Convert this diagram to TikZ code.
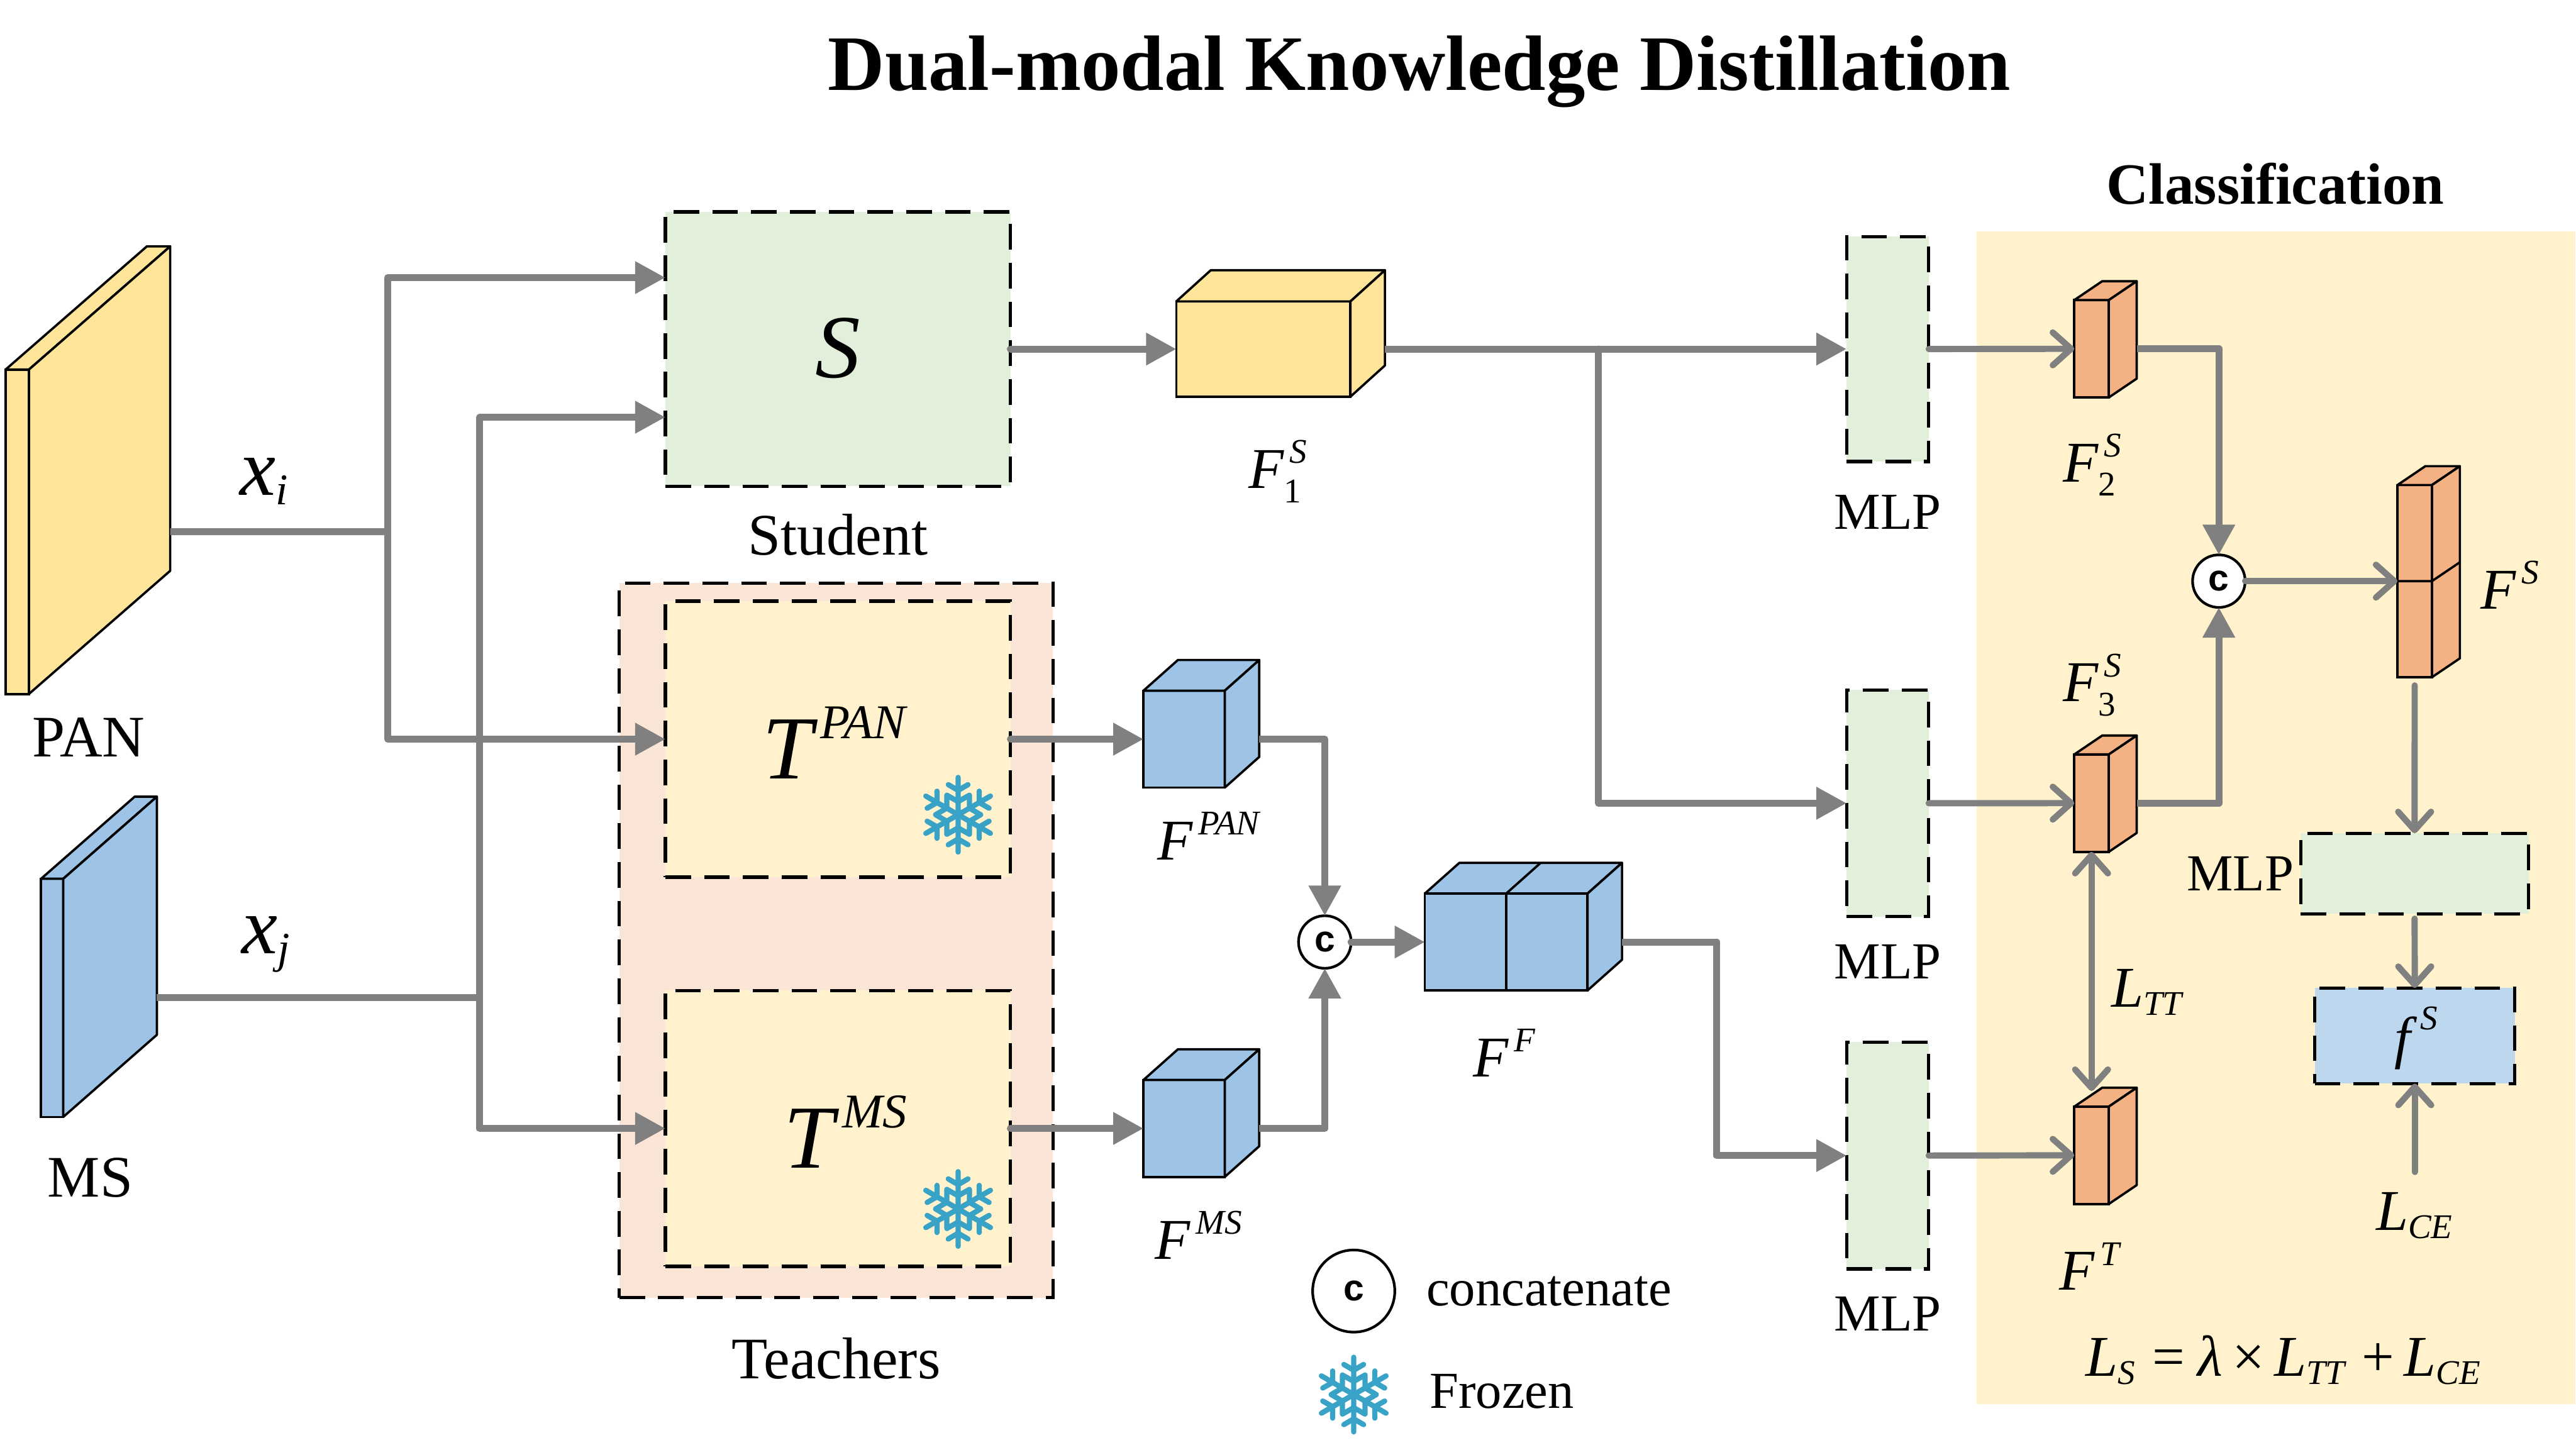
\documentclass[tikz,border=0pt]{standalone}
\usepackage{amsmath}
\usepackage{fontspec}
\setmainfont{Liberation Serif}
\newfontfamily\capfont{Liberation Sans}
\usepackage{tikz}
\usetikzlibrary{arrows.meta, positioning, calc}
\DeclareMathSizes{25}{25}{15}{12}
\DeclareMathSizes{39}{39}{21}{16}
\DeclareMathSizes{35}{35}{19}{15}
\definecolor{paneyellow}{HTML}{FFF2CC}
\definecolor{paneorange}{HTML}{FBE5D6}
\definecolor{panegreen}{HTML}{E2EFDA}
\definecolor{paneblue}{HTML}{BDD7EE}
\definecolor{cubeyellow}{HTML}{FEE599}
\definecolor{cubeblue}{HTML}{9DC3E6}
\definecolor{cubeorange}{HTML}{F4B183}
\definecolor{arrgray}{HTML}{808080}
\definecolor{flakeblue}{HTML}{38A3C6}
\def\pxu{0.25mm}
\newcommand{\mv}[1]{\textit{#1}}
% front face is the node, top and side faces hang off it
\newcommand{\featcube}[8]{
  \node[cubeface, fill=#8, size={#4}{#5}, anchor=north west] (#1) at (#2,#3) {};
  \draw[cubeline, fill=#8] (#1.north west) -- ++(#6,-#7) -- ++(#4,0) -- (#1.north east) -- cycle;
  \draw[cubeline, fill=#8] (#1.north east) -- ++(#6,-#7) -- ++(0,#5) -- (#1.south east) -- cycle;
  \coordinate (#1-r) at ($(#1.east)+(#6,0)$);
}
\tikzset{
  snowflake/.pic = {
    \foreach \a in {0,60,...,300} {
      \draw[flakeline, rotate=\a] (0,0) -- (0,22.7) (-6,18.3) -- (0,14.8) -- (6,18.3);
      \draw[flakeline, rotate=\a] (0,8) -- (6.85,11.86) -- (6.93,4);
    }
  }
}
\begin{document}
\begin{tikzpicture}[
    x=0.25mm, y=-0.25mm,
    size/.style 2 args = {minimum width=#1*\pxu, minimum height=#2*\pxu},
    dbox/.style = {draw, line width=0.5mm, dash pattern=on 3.9mm off 2mm, inner sep=0pt, outer sep=0pt},
    cubeface/.style = {draw, line width=0.35mm, inner sep=0pt, outer sep=0pt},
    cubeline/.style = {line width=0.35mm, line join=round},
    circ/.style = {draw, circle, fill=white, line width=0.4mm, inner sep=0pt, outer sep=0pt,
      font=\capfont\bfseries\fontsize{16pt}{20pt}\selectfont},
    arr/.style = {-{Triangle[length=4.6mm, width=4.7mm]}, line width=1.05mm, arrgray, line cap=round, line join=round},
    cubearr/.style = {arr, line cap=butt},
    oarr/.style = {-{Straight Barb[length=2.8mm, width=5mm, round]}, line width=0.95mm, arrgray, line cap=round, line join=round},
    lbl/.style = {inner sep=0pt, font=\fontsize{25pt}{30pt}\selectfont},
    txt/.style = {inner sep=0pt, font=\fontsize{25.5pt}{30pt}\selectfont},
    leg/.style = {inner sep=0pt, font=\fontsize{22.5pt}{27pt}\selectfont},
    big/.style = {inner sep=0pt, font=\fontsize{39pt}{48pt}\selectfont},
    mid/.style = {inner sep=0pt, font=\fontsize{35pt}{42pt}\selectfont},
    flakeline/.style = {line width=0.8mm, flakeblue, line cap=round, line join=round},
  ]
    \useasboundingbox (0,0) rectangle (1568,882.7);

    % Title
    \node[inner sep=0pt, font=\bfseries\fontsize{34pt}{40pt}\selectfont] (title) at (864,43.5) {Dual-modal Knowledge Distillation};
    \node[inner sep=0pt, font=\bfseries\fontsize{25.3pt}{30pt}\selectfont] (cls) at (1385,112) {Classification};

    % Panels
    \node[fill=paneyellow, inner sep=0pt, size={364.5}{714}, anchor=north west] (panel) at (1203,140.5) {};
    \node[dbox, fill=paneorange, size={264}{435}, anchor=north west] (teach) at (377,355) {};
    \node[dbox, fill=panegreen, size={210}{167}, anchor=north west] (S) at (405,129) {};
    \node[dbox, fill=paneyellow, size={210}{168}, anchor=north west] (TP) at (405,366) {};
    \node[dbox, fill=paneyellow, size={210}{168}, anchor=north west] (TM) at (405,603) {};
    \node[dbox, fill=panegreen, size={50}{137}, anchor=north west] (M1) at (1124,144) {};
    \node[dbox, fill=panegreen, size={50}{138}, anchor=north west] (M2) at (1124,420) {};
    \node[dbox, fill=panegreen, size={50}{138}, anchor=north west] (M3) at (1124,634.5) {};
    \node[dbox, fill=panegreen, size={138.7}{49}, anchor=north west] (M4) at (1400.4,507.3) {};
    \node[dbox, fill=paneblue, size={121.7}{58.2}, anchor=north west] (fS) at (1409,601.5) {};

    % Inputs and features
    \featcube{PAN}{3.4}{225}{14.2}{197.5}{86}{75}{cubeyellow}
    \featcube{MS}{25}{535}{13.5}{145}{57}{50}{cubeblue}
    \featcube{F1S}{716}{183.5}{106}{58}{21}{19}{cubeyellow}
    \featcube{FP}{696}{420.5}{49.5}{59}{21}{18.7}{cubeblue}
    \featcube{FM}{696}{657.5}{49.5}{59}{21}{18.7}{cubeblue}
    \featcube{FF}{867.3}{544}{99}{59}{21}{18.7}{cubeblue}
    \draw[cubeline] (FF.north) -- (FF.south) (FF.north) -- ++(21,-18.7);
    \featcube{F2}{1262.6}{182.7}{21}{59.3}{17}{11.5}{cubeorange}
    \featcube{F3}{1262.6}{459.3}{21}{59.3}{17}{11.5}{cubeorange}
    \featcube{FT}{1262.6}{673.7}{21}{59.3}{17}{11.5}{cubeorange}
    \featcube{FS}{1459.3}{295.3}{21}{117}{17}{11.5}{cubeorange}
    \draw[cubeline] (FS.west) -- (FS.east) -- ++(17,-11.5);

    % Concatenation
    \node[circ, minimum size=32*\pxu] (c1) at (806.4,573.5) {c};
    \node[circ, minimum size=32*\pxu] (c2) at (1350.6,353.8) {c};

    % Frozen marks
    \pic at (583.2,496) {snowflake};
    \pic at (583.2,736) {snowflake};

    % Arrows left part
    \coordinate (jpan) at (236,323.7);
    \coordinate (jms) at (292,607.5);
    \coordinate (Sa) at ($(S.west)+(0,-43.5)$);
    \coordinate (Sb) at ($(S.west)+(0,41.5)$);
    \draw[cubearr, -] (PAN-r) -- (jpan);
    \draw[arr] (jpan) |- (Sa);
    \draw[arr] (jpan) |- (TP.west);
    \draw[cubearr, -] (MS-r) -- (jms);
    \draw[arr] (jms) |- (Sb);
    \draw[arr] (jms) |- (TM.west);

    % Arrows middle part
    \coordinate (jbr) at (973,212.5);
    \coordinate (jff) at (1045,573.5);
    \draw[arr] (S.east) -- (F1S.west);
    \draw[arr] (TP.east) -- (FP.west);
    \draw[arr] (TM.east) -- (FM.west);
    \draw[cubearr] (FP-r) -| (c1.north);
    \draw[cubearr] (FM-r) -| (c1.south);
    \draw[arr] (c1) -- (FF.west);
    \draw[cubearr] (F1S-r) -- (M1.west);
    \draw[arr] (jbr) |- (M2.west);
    \draw[cubearr] (FF-r) -- (jff) |- (M3.west);

    % Arrows classification
    \draw[oarr] (M1.east) -- (F2.west);
    \draw[oarr] (M2.east) -- (F3.west);
    \draw[oarr] (M3.east) -- (FT.west);
    \draw[cubearr] (F2-r) -| (c2.north);
    \draw[cubearr] (F3-r) -| (c2.south);
    \draw[oarr] (c2) -- (FS.west);
    \draw[oarr, shorten <=5*\pxu] (FS.south) -- (M4.north);
    \draw[oarr, shorten <=3*\pxu] (M4.south) -- (fS.north);
    \draw[oarr, {Straight Barb[length=2.8mm, width=5mm, round]}-{Straight Barb[length=2.8mm, width=5mm, round]}, shorten >=9.5*\pxu] (F3.south) -- (FT.north);

    % Labels
    \node[big] (Stxt) at (510,212) {$\mv{S}$};
    \node[big] (TPtxt) at (508,452) {$\mv{T}^{\,\mv{PAN}}$};
    \node[big] (TMtxt) at (515,689) {$\mv{T}^{\,\mv{MS}}$};
    \node[txt, below=4.2mm of S] (Slbl) {Student};
    \node[txt, below=6mm of teach] (Tlbl) {Teachers};
    \node[txt] (PANlbl) at (54,449) {PAN};
    \node[txt] (MSlbl) at (55,717) {MS};
    \node[leg, below=5mm of M1] (M1lbl) {MLP};
    \node[leg, below=4.2mm of M2] (M2lbl) {MLP};
    \node[leg, below=4.2mm of M3] (M3lbl) {MLP};
    \node[leg, left=1mm of M4] (M4lbl) {MLP};
    \node[mid] (xi) at (161,293) {$\mv{x}_{\mv{i}}$};
    \node[mid] (xj) at (162,575) {$\mv{x}_{\mv{j}}$};
    \node[lbl] (F1lbl) at (778,287) {$\mv{F}_{\textrm{1}}^{\,\mv{S}}$};
    \node[lbl] (FPlbl) at (736,509) {$\mv{F}^{\,\mv{PAN}}$};
    \node[lbl] (FMlbl) at (730,752) {$\mv{F}^{\,\mv{MS}}$};
    \node[lbl] (FFlbl) at (916,641) {$\mv{F}^{\,\mv{F}}$};
    \node[lbl] (F2lbl) at (1274,283) {$\mv{F}_{\textrm{2}}^{\,\mv{S}}$};
    \node[lbl] (F3lbl) at (1274,417) {$\mv{F}_{\textrm{3}}^{\,\mv{S}}$};
    \node[lbl] (FTlbl) at (1272,771) {$\mv{F}^{\,\mv{T}}$};
    \node[lbl] (FSlbl) at (1528,356) {$\mv{F}^{\,\mv{S}}$};
    \node[lbl] (LTT) at (1307,604) {$\mv{L}_{\mv{TT}}$};
    \node[lbl] (LCE) at (1469.85,740) {$\mv{L}_{\mv{CE}}$};
    \draw[oarr, shorten <=12*\pxu] (LCE.north) -- (fS.south);
    \node[lbl] (fStxt) at (1471,632) {$\mv{f}^{\;\mv{S}}$};
    \node[lbl] (Lform) at (1390,828) {$\mv{L}_{\mv{S}}\mkern5mu\textrm{=}\mkern4mu\mv{λ}\mkern3mu\textrm{×}\mkern3mu\mv{L}_{\mv{TT}}\mkern5mu\textrm{+}\mkern3mu\mv{L}_{\mv{CE}}$};

    % Legend
    \node[circ, minimum size=50*\pxu] (legc) at (824,786) {c};
    \node[leg, right=4.75mm of legc] (legct) {concatenate};
    \pic at (824,849) {snowflake};
    \node[leg, anchor=west] (legf) at (870,847) {Frozen};
\end{tikzpicture}
\end{document}
